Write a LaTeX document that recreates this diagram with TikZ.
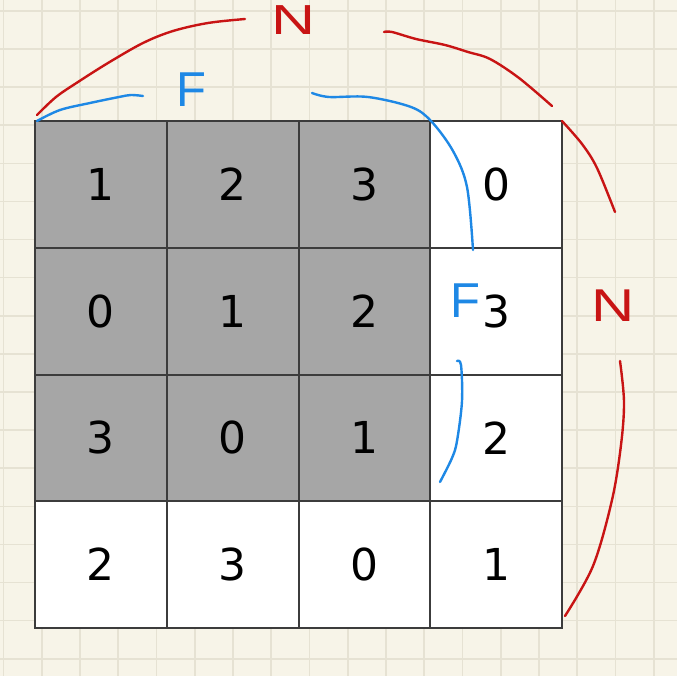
\documentclass[tikz,border=0pt]{standalone}
\usepackage{fontspec}
\setmainfont{DejaVu Sans}
\newfontfamily\handfont{Liberation Sans}
\definecolor{paper}{HTML}{F7F4E8}
\definecolor{gridline}{HTML}{E6E2D3}
\definecolor{cellgray}{HTML}{A6A6A6}
\definecolor{penred}{HTML}{C81414}
\definecolor{penblue}{HTML}{1E88E5}
\definecolor{rulecol}{HTML}{3C3C3C}
\begin{document}
\begin{tikzpicture}[x=1pt,y=-1pt,
  cell/.style={draw=rulecol, line width=2pt, minimum width=131.75pt, minimum height=126.75pt,
    inner sep=0pt, anchor=center, font=\fontsize{44}{44}\selectfont, text=black},
  shadedcell/.style={cell, fill=cellgray},
  plaincell/.style={cell, fill=white},
  redpen/.style={draw=penred, line width=2.4pt, line cap=round, line join=round},
  bluepen/.style={draw=penblue, line width=2.4pt, line cap=round, line join=round},
  redlabel/.style={text=penred, inner sep=0pt, anchor=center},
  bluelabel/.style={text=penblue, inner sep=0pt, anchor=center},
  paperline/.style={draw=gridline, line width=1.6pt}
]
\fill[paper] (0,0) rectangle (677,676);
\useasboundingbox (0,0) rectangle (677,676);
% paper grid
\foreach \i in {0,...,17} \draw[paperline] ({3.5+38.25*\i},0) -- ++(0,676);
\foreach \j in {0,...,17} \draw[paperline] (0,{11+38.1*\j}) -- ++(677,0);
% table cells
\foreach \r/\c/\v/\s in {1/1/1/shadedcell,1/2/2/shadedcell,1/3/3/shadedcell,1/4/0/plaincell,
                         2/1/0/shadedcell,2/2/1/shadedcell,2/3/2/shadedcell,2/4/3/plaincell,
                         3/1/3/shadedcell,3/2/0/shadedcell,3/3/1/shadedcell,3/4/2/plaincell,
                         4/1/2/plaincell,4/2/3/plaincell,4/3/0/plaincell,4/4/1/plaincell}
  \node[\s] (c\r\c) at ({35+131.75*(\c-0.5)},{121+126.75*(\r-0.5)}) {\v};
% red strokes (N)
\draw[redpen] plot[smooth, tension=0.55] coordinates {(37,115) (56,97) (78,82) (108,63) (143,43) (173,31) (208,23) (245,19)};
\draw[redpen] plot[smooth, tension=0.55] coordinates {(384,32) (392,32) (416,39) (445,45) (468,52) (490,59) (519,78) (552,106)};
\draw[redpen] plot[smooth, tension=0.55] coordinates {(562,121) (582,144) (597,168) (615,212)};
\draw[redpen] plot[smooth, tension=0.55] coordinates {(620,361) (624,402) (621,445) (612,500) (593,566) (565,616)};
\node[redlabel, font=\handfont\fontsize{42}{42}\selectfont, xscale=1.45, transform shape] (ntop) at (293,20) {N};
\node[redlabel, font=\handfont\fontsize{46}{46}\selectfont, xscale=1.3, transform shape] (nright) at (613,306) {N};
% blue strokes (F)
\draw[bluepen] plot[smooth, tension=0.55] coordinates {(37,121) (60,110) (90,103) (119,97) (131,95) (143,96)};
\draw[bluepen] plot[smooth, tension=0.55] coordinates {(312,93) (329,97) (368,97) (411,107) (431,121) (453,151) (467,187) (473,250)};
\draw[bluepen] plot[smooth, tension=0.55] coordinates {(457,361) (461,365) (462,401) (457,441) (452,458) (440,482)};
\node[bluelabel, font=\handfont\fontsize{49}{49}\selectfont] (ftop) at (191,90) {F};
\node[bluelabel, font=\handfont\fontsize{49}{49}\selectfont] (fright) at (465,301) {F};
\end{tikzpicture}
\end{document}
